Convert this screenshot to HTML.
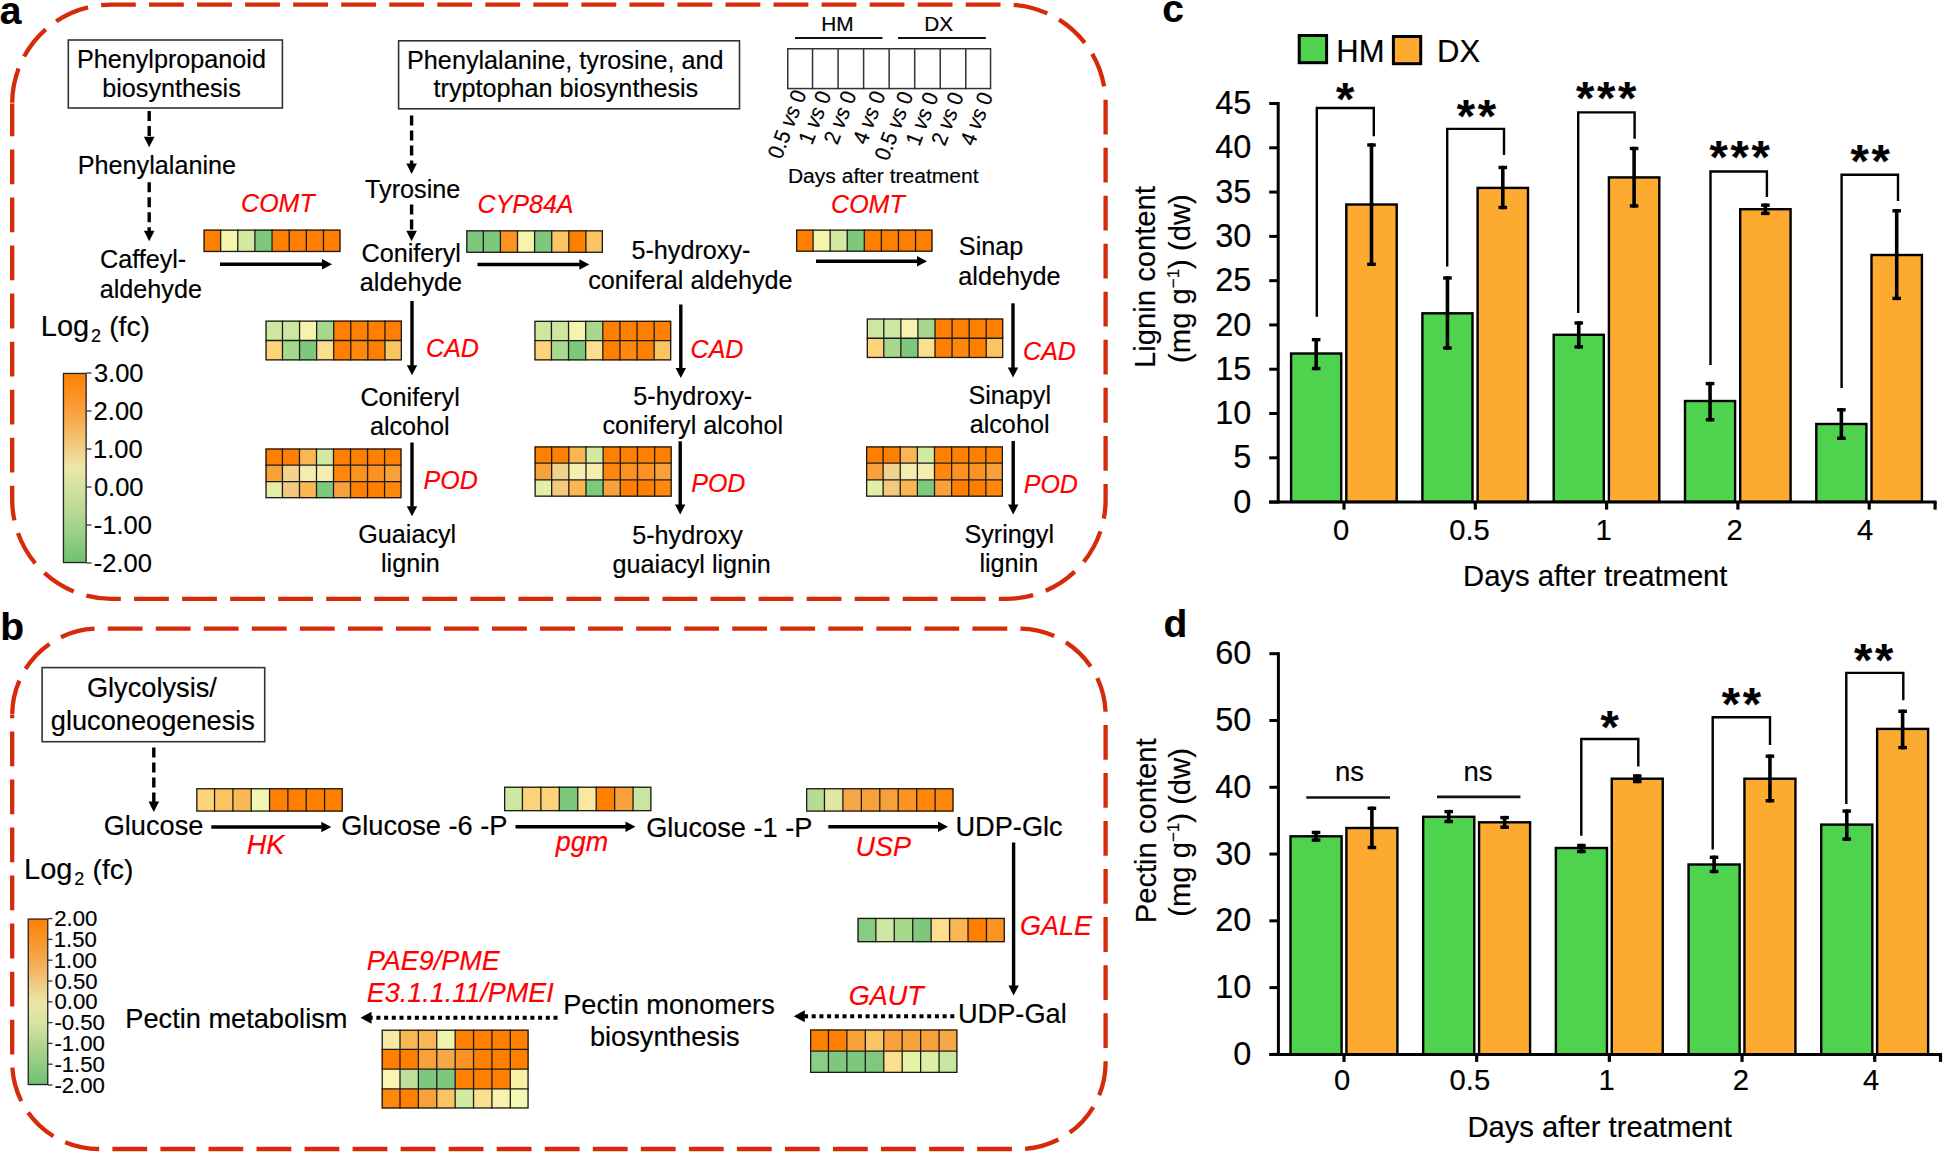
<!DOCTYPE html>
<html><head><meta charset="utf-8"><title>Figure</title>
<style>html,body{margin:0;padding:0;background:#fff;overflow:hidden}svg{display:block}text{font-family:'Liberation Sans', sans-serif;stroke-width:0.18px}</style>
</head><body>
<svg width="1944" height="1153" viewBox="0 0 1944 1153">
<rect width="1944" height="1153" fill="#fff"/>
<path d="M12.2,103.6 A99,99 0 0 1 111.2,4.6 L1006.6,4.6 A99,99 0 0 1 1105.6,103.6 L1105.6,499.8 A99,99 0 0 1 1006.6,598.8 L111.2,598.8 A99,99 0 0 1 12.2,499.8 Z" fill="none" stroke="#d52b0b" stroke-width="4.3" stroke-dasharray="34.8 13.24" stroke-dashoffset="-0.94"/>
<path d="M12.2,715.1 A86.5,86.5 0 0 1 98.7,628.6 L1019.1,628.6 A86.5,86.5 0 0 1 1105.6,715.1 L1105.6,1062.5 A86.5,86.5 0 0 1 1019.1,1149 L98.7,1149 A86.5,86.5 0 0 1 12.2,1062.5 Z" fill="none" stroke="#d52b0b" stroke-width="4.3" stroke-dasharray="34.8 13.24" stroke-dashoffset="-0.55"/>
<text x="-0.17" y="23.6" font-size="39" font-weight="bold" stroke="#000">a</text>
<text x="0.36" y="639.6" font-size="39" font-weight="bold" stroke="#000">b</text>
<text x="1162.24" y="22.3" font-size="39" font-weight="bold" stroke="#000">c</text>
<text x="1163.44" y="637.2" font-size="39" font-weight="bold" stroke="#000">d</text>
<rect x="68.3" y="40" width="214.1" height="68" fill="none" stroke="#333" stroke-width="1.6"/>
<text x="171.43" y="68.4" font-size="25.2" text-anchor="middle" stroke="#000">Phenylpropanoid</text>
<text x="171.5" y="97.2" font-size="25.2" text-anchor="middle" stroke="#000">biosynthesis</text>
<rect x="398.6" y="40.8" width="340.9" height="68" fill="none" stroke="#333" stroke-width="1.6"/>
<text x="565.3" y="68.9" font-size="25.2" text-anchor="middle" stroke="#000">Phenylalanine, tyrosine, and</text>
<text x="565.87" y="97.2" font-size="25.2" text-anchor="middle" stroke="#000">tryptophan biosynthesis</text>
<line x1="149.2" y1="111" x2="149.2" y2="137.2" stroke="#000" stroke-width="3.4" stroke-linecap="butt" stroke-dasharray="10 5"/>
<polygon points="149.2,147.2 143.9,136.7 154.5,136.7" fill="#000"/>
<text x="156.9" y="173.7" font-size="25.2" text-anchor="middle" stroke="#000">Phenylalanine</text>
<line x1="149.2" y1="182.2" x2="149.2" y2="231.3" stroke="#000" stroke-width="3.4" stroke-linecap="butt" stroke-dasharray="10 5"/>
<polygon points="149.2,241.3 143.9,230.8 154.5,230.8" fill="#000"/>
<text x="99.94" y="267.6" font-size="25.2" stroke="#000">Caffeyl-</text>
<text x="99.67" y="297.5" font-size="25.2" stroke="#000">aldehyde</text>
<line x1="411.6" y1="115.5" x2="411.6" y2="164" stroke="#000" stroke-width="3.4" stroke-linecap="butt" stroke-dasharray="10 5"/>
<polygon points="411.6,174 406.3,163.5 416.9,163.5" fill="#000"/>
<text x="412.65" y="198.4" font-size="25.2" text-anchor="middle" stroke="#000">Tyrosine</text>
<line x1="411.6" y1="204.5" x2="411.6" y2="231.3" stroke="#000" stroke-width="3.4" stroke-linecap="butt" stroke-dasharray="10 5"/>
<polygon points="411.6,241.3 406.3,230.8 416.9,230.8" fill="#000"/>
<text x="411.2" y="262.2" font-size="25.2" text-anchor="middle" stroke="#000">Coniferyl</text>
<text x="410.99" y="291.4" font-size="25.2" text-anchor="middle" stroke="#000">aldehyde</text>
<text x="690.95" y="258.9" font-size="25.2" text-anchor="middle" stroke="#000">5-hydroxy-</text>
<text x="690.42" y="288.9" font-size="25.2" text-anchor="middle" stroke="#000">coniferal aldehyde</text>
<text x="958.87" y="255.4" font-size="25.2" stroke="#000">Sinap</text>
<text x="958.37" y="284.7" font-size="25.2" stroke="#000">aldehyde</text>
<text x="410.1" y="405.9" font-size="25.2" text-anchor="middle" stroke="#000">Coniferyl</text>
<text x="409.8" y="435.4" font-size="25.2" text-anchor="middle" stroke="#000">alcohol</text>
<text x="692.75" y="404.7" font-size="25.2" text-anchor="middle" stroke="#000">5-hydroxy-</text>
<text x="692.76" y="433.9" font-size="25.2" text-anchor="middle" stroke="#000">coniferyl alcohol</text>
<text x="1009.75" y="403.9" font-size="25.2" text-anchor="middle" stroke="#000">Sinapyl</text>
<text x="1009.6" y="432.9" font-size="25.2" text-anchor="middle" stroke="#000">alcohol</text>
<text x="407.2" y="542.9" font-size="25.2" text-anchor="middle" stroke="#000">Guaiacyl</text>
<text x="410.4" y="572.2" font-size="25.2" text-anchor="middle" stroke="#000">lignin</text>
<text x="687.47" y="544.2" font-size="25.2" text-anchor="middle" stroke="#000">5-hydroxy</text>
<text x="691.64" y="573.4" font-size="25.2" text-anchor="middle" stroke="#000">guaiacyl lignin</text>
<text x="1009.27" y="542.7" font-size="25.2" text-anchor="middle" stroke="#000">Syringyl</text>
<text x="1008.8" y="572.2" font-size="25.2" text-anchor="middle" stroke="#000">lignin</text>
<line x1="220" y1="264.2" x2="322.5" y2="264.2" stroke="#000" stroke-width="3.4" stroke-linecap="butt"/>
<polygon points="332,264.2 322,269.4 322,259" fill="#000"/>
<line x1="477.5" y1="264.5" x2="579.8" y2="264.5" stroke="#000" stroke-width="3.4" stroke-linecap="butt"/>
<polygon points="589.3,264.5 579.3,269.7 579.3,259.3" fill="#000"/>
<line x1="816" y1="261.3" x2="917.5" y2="261.3" stroke="#000" stroke-width="3.4" stroke-linecap="butt"/>
<polygon points="927,261.3 917,266.5 917,256.1" fill="#000"/>
<line x1="412" y1="301" x2="412" y2="365.7" stroke="#000" stroke-width="3.4" stroke-linecap="butt"/>
<polygon points="412,375.2 406.8,365.2 417.2,365.2" fill="#000"/>
<line x1="680.8" y1="304.5" x2="680.8" y2="368.5" stroke="#000" stroke-width="3.4" stroke-linecap="butt"/>
<polygon points="680.8,378 675.6,368 686,368" fill="#000"/>
<line x1="1013" y1="303.3" x2="1013" y2="368" stroke="#000" stroke-width="3.4" stroke-linecap="butt"/>
<polygon points="1013,377.5 1007.8,367.5 1018.2,367.5" fill="#000"/>
<line x1="412" y1="442.5" x2="412" y2="506.8" stroke="#000" stroke-width="3.4" stroke-linecap="butt"/>
<polygon points="412,516.3 406.8,506.3 417.2,506.3" fill="#000"/>
<line x1="680.2" y1="441.3" x2="680.2" y2="505" stroke="#000" stroke-width="3.4" stroke-linecap="butt"/>
<polygon points="680.2,514.5 675,504.5 685.4,504.5" fill="#000"/>
<line x1="1013.2" y1="441" x2="1013.2" y2="505" stroke="#000" stroke-width="3.4" stroke-linecap="butt"/>
<polygon points="1013.2,514.5 1008,504.5 1018.4,504.5" fill="#000"/>
<text x="241.12" y="211.9" font-size="25" font-style="italic" fill="#ff0000" stroke="#ff0000">COMT</text>
<text x="477.62" y="212.9" font-size="25" font-style="italic" fill="#ff0000" stroke="#ff0000">CYP84A</text>
<text x="831.12" y="212.9" font-size="25" font-style="italic" fill="#ff0000" stroke="#ff0000">COMT</text>
<text x="426.12" y="357.2" font-size="25" font-style="italic" fill="#ff0000" stroke="#ff0000">CAD</text>
<text x="690.62" y="357.9" font-size="25" font-style="italic" fill="#ff0000" stroke="#ff0000">CAD</text>
<text x="1023.12" y="359.7" font-size="25" font-style="italic" fill="#ff0000" stroke="#ff0000">CAD</text>
<text x="423.55" y="488.9" font-size="25" font-style="italic" fill="#ff0000" stroke="#ff0000">POD</text>
<text x="691.25" y="491.7" font-size="25" font-style="italic" fill="#ff0000" stroke="#ff0000">POD</text>
<text x="1023.75" y="492.9" font-size="25" font-style="italic" fill="#ff0000" stroke="#ff0000">POD</text>
<rect x="203.5" y="229.5" width="17.14" height="22.6" fill="#ff8000"/>
<rect x="220.64" y="229.5" width="17.14" height="22.6" fill="#f5f3ad"/>
<rect x="237.78" y="229.5" width="17.14" height="22.6" fill="#d3e9a2"/>
<rect x="254.91" y="229.5" width="17.14" height="22.6" fill="#7dc87d"/>
<rect x="272.05" y="229.5" width="17.14" height="22.6" fill="#ff8000"/>
<rect x="289.19" y="229.5" width="17.14" height="22.6" fill="#ff8000"/>
<rect x="306.33" y="229.5" width="17.14" height="22.6" fill="#ff8000"/>
<rect x="323.46" y="229.5" width="17.14" height="22.6" fill="#ff8000"/>
<line x1="220.64" y1="229.5" x2="220.64" y2="252.1" stroke="#1a1a1a" stroke-width="1.3" stroke-linecap="butt"/>
<line x1="237.78" y1="229.5" x2="237.78" y2="252.1" stroke="#1a1a1a" stroke-width="1.3" stroke-linecap="butt"/>
<line x1="254.91" y1="229.5" x2="254.91" y2="252.1" stroke="#1a1a1a" stroke-width="1.3" stroke-linecap="butt"/>
<line x1="272.05" y1="229.5" x2="272.05" y2="252.1" stroke="#1a1a1a" stroke-width="1.3" stroke-linecap="butt"/>
<line x1="289.19" y1="229.5" x2="289.19" y2="252.1" stroke="#1a1a1a" stroke-width="1.3" stroke-linecap="butt"/>
<line x1="306.33" y1="229.5" x2="306.33" y2="252.1" stroke="#1a1a1a" stroke-width="1.3" stroke-linecap="butt"/>
<line x1="323.46" y1="229.5" x2="323.46" y2="252.1" stroke="#1a1a1a" stroke-width="1.3" stroke-linecap="butt"/>
<rect x="204.15" y="230.15" width="135.8" height="21.3" fill="none" stroke="#1a1a1a" stroke-width="1.3"/>
<rect x="466.2" y="230.2" width="17.1" height="22.7" fill="#7dc87d"/>
<rect x="483.3" y="230.2" width="17.1" height="22.7" fill="#7dc87d"/>
<rect x="500.4" y="230.2" width="17.1" height="22.7" fill="#fc9222"/>
<rect x="517.5" y="230.2" width="17.1" height="22.7" fill="#f5f3ad"/>
<rect x="534.6" y="230.2" width="17.1" height="22.7" fill="#7dc87d"/>
<rect x="551.7" y="230.2" width="17.1" height="22.7" fill="#fbc462"/>
<rect x="568.8" y="230.2" width="17.1" height="22.7" fill="#ff8000"/>
<rect x="585.9" y="230.2" width="17.1" height="22.7" fill="#fbc462"/>
<line x1="483.3" y1="230.2" x2="483.3" y2="252.9" stroke="#1a1a1a" stroke-width="1.3" stroke-linecap="butt"/>
<line x1="500.4" y1="230.2" x2="500.4" y2="252.9" stroke="#1a1a1a" stroke-width="1.3" stroke-linecap="butt"/>
<line x1="517.5" y1="230.2" x2="517.5" y2="252.9" stroke="#1a1a1a" stroke-width="1.3" stroke-linecap="butt"/>
<line x1="534.6" y1="230.2" x2="534.6" y2="252.9" stroke="#1a1a1a" stroke-width="1.3" stroke-linecap="butt"/>
<line x1="551.7" y1="230.2" x2="551.7" y2="252.9" stroke="#1a1a1a" stroke-width="1.3" stroke-linecap="butt"/>
<line x1="568.8" y1="230.2" x2="568.8" y2="252.9" stroke="#1a1a1a" stroke-width="1.3" stroke-linecap="butt"/>
<line x1="585.9" y1="230.2" x2="585.9" y2="252.9" stroke="#1a1a1a" stroke-width="1.3" stroke-linecap="butt"/>
<rect x="466.85" y="230.85" width="135.5" height="21.4" fill="none" stroke="#1a1a1a" stroke-width="1.3"/>
<rect x="796" y="229.5" width="17.08" height="22.3" fill="#ff8000"/>
<rect x="813.08" y="229.5" width="17.07" height="22.3" fill="#f5f3ad"/>
<rect x="830.15" y="229.5" width="17.08" height="22.3" fill="#d3e9a2"/>
<rect x="847.23" y="229.5" width="17.07" height="22.3" fill="#7dc87d"/>
<rect x="864.3" y="229.5" width="17.08" height="22.3" fill="#ff8000"/>
<rect x="881.38" y="229.5" width="17.08" height="22.3" fill="#ff8000"/>
<rect x="898.45" y="229.5" width="17.07" height="22.3" fill="#ff8000"/>
<rect x="915.52" y="229.5" width="17.08" height="22.3" fill="#ff8000"/>
<line x1="813.08" y1="229.5" x2="813.08" y2="251.8" stroke="#1a1a1a" stroke-width="1.3" stroke-linecap="butt"/>
<line x1="830.15" y1="229.5" x2="830.15" y2="251.8" stroke="#1a1a1a" stroke-width="1.3" stroke-linecap="butt"/>
<line x1="847.23" y1="229.5" x2="847.23" y2="251.8" stroke="#1a1a1a" stroke-width="1.3" stroke-linecap="butt"/>
<line x1="864.3" y1="229.5" x2="864.3" y2="251.8" stroke="#1a1a1a" stroke-width="1.3" stroke-linecap="butt"/>
<line x1="881.38" y1="229.5" x2="881.38" y2="251.8" stroke="#1a1a1a" stroke-width="1.3" stroke-linecap="butt"/>
<line x1="898.45" y1="229.5" x2="898.45" y2="251.8" stroke="#1a1a1a" stroke-width="1.3" stroke-linecap="butt"/>
<line x1="915.52" y1="229.5" x2="915.52" y2="251.8" stroke="#1a1a1a" stroke-width="1.3" stroke-linecap="butt"/>
<rect x="796.65" y="230.15" width="135.3" height="21" fill="none" stroke="#1a1a1a" stroke-width="1.3"/>
<rect x="265.4" y="320.5" width="17.07" height="20" fill="#cde7a0"/>
<rect x="282.47" y="320.5" width="17.07" height="20" fill="#cde7a0"/>
<rect x="299.55" y="320.5" width="17.08" height="20" fill="#f5f3ad"/>
<rect x="316.62" y="320.5" width="17.07" height="20" fill="#a8d78e"/>
<rect x="333.7" y="320.5" width="17.07" height="20" fill="#ff8000"/>
<rect x="350.77" y="320.5" width="17.08" height="20" fill="#ff8000"/>
<rect x="367.85" y="320.5" width="17.07" height="20" fill="#ff8000"/>
<rect x="384.93" y="320.5" width="17.07" height="20" fill="#ff8000"/>
<rect x="265.4" y="340.5" width="17.07" height="20" fill="#fcd47a"/>
<rect x="282.47" y="340.5" width="17.07" height="20" fill="#a8d78e"/>
<rect x="299.55" y="340.5" width="17.08" height="20" fill="#7dc87d"/>
<rect x="316.62" y="340.5" width="17.07" height="20" fill="#fcdf8e"/>
<rect x="333.7" y="340.5" width="17.07" height="20" fill="#ff8000"/>
<rect x="350.77" y="340.5" width="17.08" height="20" fill="#fe870c"/>
<rect x="367.85" y="340.5" width="17.07" height="20" fill="#ff8000"/>
<rect x="384.93" y="340.5" width="17.07" height="20" fill="#fbc462"/>
<line x1="282.47" y1="320.5" x2="282.47" y2="360.5" stroke="#1a1a1a" stroke-width="1.3" stroke-linecap="butt"/>
<line x1="299.55" y1="320.5" x2="299.55" y2="360.5" stroke="#1a1a1a" stroke-width="1.3" stroke-linecap="butt"/>
<line x1="316.62" y1="320.5" x2="316.62" y2="360.5" stroke="#1a1a1a" stroke-width="1.3" stroke-linecap="butt"/>
<line x1="333.7" y1="320.5" x2="333.7" y2="360.5" stroke="#1a1a1a" stroke-width="1.3" stroke-linecap="butt"/>
<line x1="350.77" y1="320.5" x2="350.77" y2="360.5" stroke="#1a1a1a" stroke-width="1.3" stroke-linecap="butt"/>
<line x1="367.85" y1="320.5" x2="367.85" y2="360.5" stroke="#1a1a1a" stroke-width="1.3" stroke-linecap="butt"/>
<line x1="384.93" y1="320.5" x2="384.93" y2="360.5" stroke="#1a1a1a" stroke-width="1.3" stroke-linecap="butt"/>
<line x1="265.4" y1="340.5" x2="402" y2="340.5" stroke="#1a1a1a" stroke-width="1.3" stroke-linecap="butt"/>
<rect x="266.05" y="321.15" width="135.3" height="38.7" fill="none" stroke="#1a1a1a" stroke-width="1.3"/>
<rect x="534.3" y="320.7" width="17.12" height="19.9" fill="#cde7a0"/>
<rect x="551.42" y="320.7" width="17.12" height="19.9" fill="#cde7a0"/>
<rect x="568.55" y="320.7" width="17.12" height="19.9" fill="#f5f3ad"/>
<rect x="585.67" y="320.7" width="17.12" height="19.9" fill="#a8d78e"/>
<rect x="602.8" y="320.7" width="17.12" height="19.9" fill="#ff8000"/>
<rect x="619.92" y="320.7" width="17.12" height="19.9" fill="#ff8000"/>
<rect x="637.05" y="320.7" width="17.12" height="19.9" fill="#ff8000"/>
<rect x="654.17" y="320.7" width="17.12" height="19.9" fill="#ff8000"/>
<rect x="534.3" y="340.6" width="17.12" height="19.9" fill="#fcd47a"/>
<rect x="551.42" y="340.6" width="17.12" height="19.9" fill="#a8d78e"/>
<rect x="568.55" y="340.6" width="17.12" height="19.9" fill="#7dc87d"/>
<rect x="585.67" y="340.6" width="17.12" height="19.9" fill="#fcdf8e"/>
<rect x="602.8" y="340.6" width="17.12" height="19.9" fill="#ff8000"/>
<rect x="619.92" y="340.6" width="17.12" height="19.9" fill="#fe870c"/>
<rect x="637.05" y="340.6" width="17.12" height="19.9" fill="#ff8000"/>
<rect x="654.17" y="340.6" width="17.12" height="19.9" fill="#fbc462"/>
<line x1="551.42" y1="320.7" x2="551.42" y2="360.5" stroke="#1a1a1a" stroke-width="1.3" stroke-linecap="butt"/>
<line x1="568.55" y1="320.7" x2="568.55" y2="360.5" stroke="#1a1a1a" stroke-width="1.3" stroke-linecap="butt"/>
<line x1="585.67" y1="320.7" x2="585.67" y2="360.5" stroke="#1a1a1a" stroke-width="1.3" stroke-linecap="butt"/>
<line x1="602.8" y1="320.7" x2="602.8" y2="360.5" stroke="#1a1a1a" stroke-width="1.3" stroke-linecap="butt"/>
<line x1="619.92" y1="320.7" x2="619.92" y2="360.5" stroke="#1a1a1a" stroke-width="1.3" stroke-linecap="butt"/>
<line x1="637.05" y1="320.7" x2="637.05" y2="360.5" stroke="#1a1a1a" stroke-width="1.3" stroke-linecap="butt"/>
<line x1="654.17" y1="320.7" x2="654.17" y2="360.5" stroke="#1a1a1a" stroke-width="1.3" stroke-linecap="butt"/>
<line x1="534.3" y1="340.6" x2="671.3" y2="340.6" stroke="#1a1a1a" stroke-width="1.3" stroke-linecap="butt"/>
<rect x="534.95" y="321.35" width="135.7" height="38.5" fill="none" stroke="#1a1a1a" stroke-width="1.3"/>
<rect x="866.7" y="318.4" width="17.08" height="19.85" fill="#cde7a0"/>
<rect x="883.78" y="318.4" width="17.07" height="19.85" fill="#cde7a0"/>
<rect x="900.85" y="318.4" width="17.07" height="19.85" fill="#f5f3ad"/>
<rect x="917.92" y="318.4" width="17.08" height="19.85" fill="#a8d78e"/>
<rect x="935" y="318.4" width="17.08" height="19.85" fill="#ff8000"/>
<rect x="952.08" y="318.4" width="17.07" height="19.85" fill="#ff8000"/>
<rect x="969.15" y="318.4" width="17.07" height="19.85" fill="#ff8000"/>
<rect x="986.22" y="318.4" width="17.08" height="19.85" fill="#ff8000"/>
<rect x="866.7" y="338.25" width="17.08" height="19.85" fill="#fcd47a"/>
<rect x="883.78" y="338.25" width="17.07" height="19.85" fill="#a8d78e"/>
<rect x="900.85" y="338.25" width="17.07" height="19.85" fill="#7dc87d"/>
<rect x="917.92" y="338.25" width="17.08" height="19.85" fill="#fcdf8e"/>
<rect x="935" y="338.25" width="17.08" height="19.85" fill="#ff8000"/>
<rect x="952.08" y="338.25" width="17.07" height="19.85" fill="#fe870c"/>
<rect x="969.15" y="338.25" width="17.07" height="19.85" fill="#ff8000"/>
<rect x="986.22" y="338.25" width="17.08" height="19.85" fill="#fbc462"/>
<line x1="883.78" y1="318.4" x2="883.78" y2="358.1" stroke="#1a1a1a" stroke-width="1.3" stroke-linecap="butt"/>
<line x1="900.85" y1="318.4" x2="900.85" y2="358.1" stroke="#1a1a1a" stroke-width="1.3" stroke-linecap="butt"/>
<line x1="917.92" y1="318.4" x2="917.92" y2="358.1" stroke="#1a1a1a" stroke-width="1.3" stroke-linecap="butt"/>
<line x1="935" y1="318.4" x2="935" y2="358.1" stroke="#1a1a1a" stroke-width="1.3" stroke-linecap="butt"/>
<line x1="952.08" y1="318.4" x2="952.08" y2="358.1" stroke="#1a1a1a" stroke-width="1.3" stroke-linecap="butt"/>
<line x1="969.15" y1="318.4" x2="969.15" y2="358.1" stroke="#1a1a1a" stroke-width="1.3" stroke-linecap="butt"/>
<line x1="986.22" y1="318.4" x2="986.22" y2="358.1" stroke="#1a1a1a" stroke-width="1.3" stroke-linecap="butt"/>
<line x1="866.7" y1="338.25" x2="1003.3" y2="338.25" stroke="#1a1a1a" stroke-width="1.3" stroke-linecap="butt"/>
<rect x="867.35" y="319.05" width="135.3" height="38.4" fill="none" stroke="#1a1a1a" stroke-width="1.3"/>
<rect x="265.4" y="448.4" width="17.02" height="16.63" fill="#ff8000"/>
<rect x="282.42" y="448.4" width="17.03" height="16.63" fill="#ff8000"/>
<rect x="299.45" y="448.4" width="17.03" height="16.63" fill="#fab652"/>
<rect x="316.48" y="448.4" width="17.02" height="16.63" fill="#d3e9a2"/>
<rect x="333.5" y="448.4" width="17.02" height="16.63" fill="#ff8000"/>
<rect x="350.52" y="448.4" width="17.03" height="16.63" fill="#ff8000"/>
<rect x="367.55" y="448.4" width="17.03" height="16.63" fill="#ff8000"/>
<rect x="384.58" y="448.4" width="17.02" height="16.63" fill="#ff8000"/>
<rect x="265.4" y="465.03" width="17.02" height="16.63" fill="#f8a13a"/>
<rect x="282.42" y="465.03" width="17.03" height="16.63" fill="#f1d28e"/>
<rect x="299.45" y="465.03" width="17.03" height="16.63" fill="#f3eeb0"/>
<rect x="316.48" y="465.03" width="17.02" height="16.63" fill="#f3eeb0"/>
<rect x="333.5" y="465.03" width="17.02" height="16.63" fill="#fe870c"/>
<rect x="350.52" y="465.03" width="17.03" height="16.63" fill="#fc9222"/>
<rect x="367.55" y="465.03" width="17.03" height="16.63" fill="#fc9222"/>
<rect x="384.58" y="465.03" width="17.02" height="16.63" fill="#f8a13a"/>
<rect x="265.4" y="481.67" width="17.02" height="16.63" fill="#e4eea6"/>
<rect x="282.42" y="481.67" width="17.03" height="16.63" fill="#f2c97e"/>
<rect x="299.45" y="481.67" width="17.03" height="16.63" fill="#fab652"/>
<rect x="316.48" y="481.67" width="17.02" height="16.63" fill="#7dc87d"/>
<rect x="333.5" y="481.67" width="17.02" height="16.63" fill="#f8a13a"/>
<rect x="350.52" y="481.67" width="17.03" height="16.63" fill="#ff8000"/>
<rect x="367.55" y="481.67" width="17.03" height="16.63" fill="#ff8000"/>
<rect x="384.58" y="481.67" width="17.02" height="16.63" fill="#fe870c"/>
<line x1="282.42" y1="448.4" x2="282.42" y2="498.3" stroke="#1a1a1a" stroke-width="1.3" stroke-linecap="butt"/>
<line x1="299.45" y1="448.4" x2="299.45" y2="498.3" stroke="#1a1a1a" stroke-width="1.3" stroke-linecap="butt"/>
<line x1="316.48" y1="448.4" x2="316.48" y2="498.3" stroke="#1a1a1a" stroke-width="1.3" stroke-linecap="butt"/>
<line x1="333.5" y1="448.4" x2="333.5" y2="498.3" stroke="#1a1a1a" stroke-width="1.3" stroke-linecap="butt"/>
<line x1="350.52" y1="448.4" x2="350.52" y2="498.3" stroke="#1a1a1a" stroke-width="1.3" stroke-linecap="butt"/>
<line x1="367.55" y1="448.4" x2="367.55" y2="498.3" stroke="#1a1a1a" stroke-width="1.3" stroke-linecap="butt"/>
<line x1="384.58" y1="448.4" x2="384.58" y2="498.3" stroke="#1a1a1a" stroke-width="1.3" stroke-linecap="butt"/>
<line x1="265.4" y1="465.03" x2="401.6" y2="465.03" stroke="#1a1a1a" stroke-width="1.3" stroke-linecap="butt"/>
<line x1="265.4" y1="481.67" x2="401.6" y2="481.67" stroke="#1a1a1a" stroke-width="1.3" stroke-linecap="butt"/>
<rect x="266.05" y="449.05" width="134.9" height="48.6" fill="none" stroke="#1a1a1a" stroke-width="1.3"/>
<rect x="534.5" y="446.3" width="17.16" height="16.83" fill="#ff8000"/>
<rect x="551.66" y="446.3" width="17.16" height="16.83" fill="#ff8000"/>
<rect x="568.83" y="446.3" width="17.16" height="16.83" fill="#fab652"/>
<rect x="585.99" y="446.3" width="17.16" height="16.83" fill="#d3e9a2"/>
<rect x="603.15" y="446.3" width="17.16" height="16.83" fill="#ff8000"/>
<rect x="620.31" y="446.3" width="17.16" height="16.83" fill="#ff8000"/>
<rect x="637.47" y="446.3" width="17.16" height="16.83" fill="#ff8000"/>
<rect x="654.64" y="446.3" width="17.16" height="16.83" fill="#ff8000"/>
<rect x="534.5" y="463.13" width="17.16" height="16.83" fill="#f8a13a"/>
<rect x="551.66" y="463.13" width="17.16" height="16.83" fill="#f1d28e"/>
<rect x="568.83" y="463.13" width="17.16" height="16.83" fill="#f3eeb0"/>
<rect x="585.99" y="463.13" width="17.16" height="16.83" fill="#f3eeb0"/>
<rect x="603.15" y="463.13" width="17.16" height="16.83" fill="#fe870c"/>
<rect x="620.31" y="463.13" width="17.16" height="16.83" fill="#fc9222"/>
<rect x="637.47" y="463.13" width="17.16" height="16.83" fill="#fc9222"/>
<rect x="654.64" y="463.13" width="17.16" height="16.83" fill="#f8a13a"/>
<rect x="534.5" y="479.97" width="17.16" height="16.83" fill="#e4eea6"/>
<rect x="551.66" y="479.97" width="17.16" height="16.83" fill="#f2c97e"/>
<rect x="568.83" y="479.97" width="17.16" height="16.83" fill="#fab652"/>
<rect x="585.99" y="479.97" width="17.16" height="16.83" fill="#7dc87d"/>
<rect x="603.15" y="479.97" width="17.16" height="16.83" fill="#f8a13a"/>
<rect x="620.31" y="479.97" width="17.16" height="16.83" fill="#ff8000"/>
<rect x="637.47" y="479.97" width="17.16" height="16.83" fill="#ff8000"/>
<rect x="654.64" y="479.97" width="17.16" height="16.83" fill="#fe870c"/>
<line x1="551.66" y1="446.3" x2="551.66" y2="496.8" stroke="#1a1a1a" stroke-width="1.3" stroke-linecap="butt"/>
<line x1="568.83" y1="446.3" x2="568.83" y2="496.8" stroke="#1a1a1a" stroke-width="1.3" stroke-linecap="butt"/>
<line x1="585.99" y1="446.3" x2="585.99" y2="496.8" stroke="#1a1a1a" stroke-width="1.3" stroke-linecap="butt"/>
<line x1="603.15" y1="446.3" x2="603.15" y2="496.8" stroke="#1a1a1a" stroke-width="1.3" stroke-linecap="butt"/>
<line x1="620.31" y1="446.3" x2="620.31" y2="496.8" stroke="#1a1a1a" stroke-width="1.3" stroke-linecap="butt"/>
<line x1="637.47" y1="446.3" x2="637.47" y2="496.8" stroke="#1a1a1a" stroke-width="1.3" stroke-linecap="butt"/>
<line x1="654.64" y1="446.3" x2="654.64" y2="496.8" stroke="#1a1a1a" stroke-width="1.3" stroke-linecap="butt"/>
<line x1="534.5" y1="463.13" x2="671.8" y2="463.13" stroke="#1a1a1a" stroke-width="1.3" stroke-linecap="butt"/>
<line x1="534.5" y1="479.97" x2="671.8" y2="479.97" stroke="#1a1a1a" stroke-width="1.3" stroke-linecap="butt"/>
<rect x="535.15" y="446.95" width="136" height="49.2" fill="none" stroke="#1a1a1a" stroke-width="1.3"/>
<rect x="866" y="446.3" width="17.12" height="16.83" fill="#ff8000"/>
<rect x="883.12" y="446.3" width="17.12" height="16.83" fill="#ff8000"/>
<rect x="900.25" y="446.3" width="17.12" height="16.83" fill="#fab652"/>
<rect x="917.38" y="446.3" width="17.12" height="16.83" fill="#d3e9a2"/>
<rect x="934.5" y="446.3" width="17.12" height="16.83" fill="#ff8000"/>
<rect x="951.62" y="446.3" width="17.12" height="16.83" fill="#ff8000"/>
<rect x="968.75" y="446.3" width="17.12" height="16.83" fill="#ff8000"/>
<rect x="985.88" y="446.3" width="17.12" height="16.83" fill="#ff8000"/>
<rect x="866" y="463.13" width="17.12" height="16.83" fill="#f8a13a"/>
<rect x="883.12" y="463.13" width="17.12" height="16.83" fill="#f1d28e"/>
<rect x="900.25" y="463.13" width="17.12" height="16.83" fill="#f3eeb0"/>
<rect x="917.38" y="463.13" width="17.12" height="16.83" fill="#f3eeb0"/>
<rect x="934.5" y="463.13" width="17.12" height="16.83" fill="#fe870c"/>
<rect x="951.62" y="463.13" width="17.12" height="16.83" fill="#fc9222"/>
<rect x="968.75" y="463.13" width="17.12" height="16.83" fill="#fc9222"/>
<rect x="985.88" y="463.13" width="17.12" height="16.83" fill="#f8a13a"/>
<rect x="866" y="479.97" width="17.12" height="16.83" fill="#e4eea6"/>
<rect x="883.12" y="479.97" width="17.12" height="16.83" fill="#f2c97e"/>
<rect x="900.25" y="479.97" width="17.12" height="16.83" fill="#fab652"/>
<rect x="917.38" y="479.97" width="17.12" height="16.83" fill="#7dc87d"/>
<rect x="934.5" y="479.97" width="17.12" height="16.83" fill="#f8a13a"/>
<rect x="951.62" y="479.97" width="17.12" height="16.83" fill="#ff8000"/>
<rect x="968.75" y="479.97" width="17.12" height="16.83" fill="#ff8000"/>
<rect x="985.88" y="479.97" width="17.12" height="16.83" fill="#fe870c"/>
<line x1="883.12" y1="446.3" x2="883.12" y2="496.8" stroke="#1a1a1a" stroke-width="1.3" stroke-linecap="butt"/>
<line x1="900.25" y1="446.3" x2="900.25" y2="496.8" stroke="#1a1a1a" stroke-width="1.3" stroke-linecap="butt"/>
<line x1="917.38" y1="446.3" x2="917.38" y2="496.8" stroke="#1a1a1a" stroke-width="1.3" stroke-linecap="butt"/>
<line x1="934.5" y1="446.3" x2="934.5" y2="496.8" stroke="#1a1a1a" stroke-width="1.3" stroke-linecap="butt"/>
<line x1="951.62" y1="446.3" x2="951.62" y2="496.8" stroke="#1a1a1a" stroke-width="1.3" stroke-linecap="butt"/>
<line x1="968.75" y1="446.3" x2="968.75" y2="496.8" stroke="#1a1a1a" stroke-width="1.3" stroke-linecap="butt"/>
<line x1="985.88" y1="446.3" x2="985.88" y2="496.8" stroke="#1a1a1a" stroke-width="1.3" stroke-linecap="butt"/>
<line x1="866" y1="463.13" x2="1003" y2="463.13" stroke="#1a1a1a" stroke-width="1.3" stroke-linecap="butt"/>
<line x1="866" y1="479.97" x2="1003" y2="479.97" stroke="#1a1a1a" stroke-width="1.3" stroke-linecap="butt"/>
<rect x="866.65" y="446.95" width="135.7" height="49.2" fill="none" stroke="#1a1a1a" stroke-width="1.3"/>
<text x="821.34" y="30.9" font-size="20.8" stroke="#000">HM</text>
<text x="924.34" y="30.9" font-size="20.8" stroke="#000">DX</text>
<line x1="795" y1="38" x2="882.5" y2="38" stroke="#111" stroke-width="2" stroke-linecap="butt"/>
<line x1="898" y1="38" x2="985.8" y2="38" stroke="#111" stroke-width="2" stroke-linecap="butt"/>
<line x1="812.54" y1="48" x2="812.54" y2="89.3" stroke="#333" stroke-width="1.5" stroke-linecap="butt"/>
<line x1="838.08" y1="48" x2="838.08" y2="89.3" stroke="#333" stroke-width="1.5" stroke-linecap="butt"/>
<line x1="863.61" y1="48" x2="863.61" y2="89.3" stroke="#333" stroke-width="1.5" stroke-linecap="butt"/>
<line x1="889.15" y1="48" x2="889.15" y2="89.3" stroke="#333" stroke-width="1.5" stroke-linecap="butt"/>
<line x1="914.69" y1="48" x2="914.69" y2="89.3" stroke="#333" stroke-width="1.5" stroke-linecap="butt"/>
<line x1="940.22" y1="48" x2="940.22" y2="89.3" stroke="#333" stroke-width="1.5" stroke-linecap="butt"/>
<line x1="965.76" y1="48" x2="965.76" y2="89.3" stroke="#333" stroke-width="1.5" stroke-linecap="butt"/>
<rect x="787.75" y="48.75" width="202.8" height="39.8" fill="none" stroke="#333" stroke-width="1.5"/>
<text x="0" y="0" font-size="22" text-anchor="end" transform="translate(806.8,93.5) rotate(-69) scale(0.93,1)" stroke="#000">0.5 <tspan font-style="italic">vs</tspan> 0</text>
<text x="0" y="0" font-size="22" text-anchor="end" transform="translate(831.5,94.7) rotate(-69) scale(0.93,1)" stroke="#000">1 <tspan font-style="italic">vs</tspan> 0</text>
<text x="0" y="0" font-size="22" text-anchor="end" transform="translate(856.8,94.7) rotate(-69) scale(0.93,1)" stroke="#000">2 <tspan font-style="italic">vs</tspan> 0</text>
<text x="0" y="0" font-size="22" text-anchor="end" transform="translate(885.8,94.7) rotate(-69) scale(0.93,1)" stroke="#000">4 <tspan font-style="italic">vs</tspan> 0</text>
<text x="0" y="0" font-size="22" text-anchor="end" transform="translate(913.6,95.2) rotate(-69) scale(0.93,1)" stroke="#000">0.5 <tspan font-style="italic">vs</tspan> 0</text>
<text x="0" y="0" font-size="22" text-anchor="end" transform="translate(938.8,95.95) rotate(-69) scale(0.93,1)" stroke="#000">1 <tspan font-style="italic">vs</tspan> 0</text>
<text x="0" y="0" font-size="22" text-anchor="end" transform="translate(964.2,95.95) rotate(-69) scale(0.93,1)" stroke="#000">2 <tspan font-style="italic">vs</tspan> 0</text>
<text x="0" y="0" font-size="22" text-anchor="end" transform="translate(993.3,95.95) rotate(-69) scale(0.93,1)" stroke="#000">4 <tspan font-style="italic">vs</tspan> 0</text>
<text x="787.92" y="183.4" font-size="21.05" stroke="#000">Days after treatment</text>
<defs>
<linearGradient id="cbA" x1="0" y1="0" x2="0" y2="1"><stop offset="0" stop-color="#ff8000"/><stop offset="0.2" stop-color="#f9a03e"/><stop offset="0.4" stop-color="#f1cf86"/><stop offset="0.5" stop-color="#ebe8a8"/><stop offset="0.6" stop-color="#d4e2a0"/><stop offset="0.8" stop-color="#a6d48c"/><stop offset="1" stop-color="#6fc171"/></linearGradient>
<linearGradient id="cbB" x1="0" y1="0" x2="0" y2="1"><stop offset="0" stop-color="#ff8000"/><stop offset="0.25" stop-color="#f4a850"/><stop offset="0.375" stop-color="#f0c57e"/><stop offset="0.5" stop-color="#ebe6a8"/><stop offset="0.625" stop-color="#d8e4a2"/><stop offset="0.75" stop-color="#b4d692"/><stop offset="1" stop-color="#6fc171"/></linearGradient>
</defs>
<text x="40.78" y="335.8" font-size="29" stroke="#000">Log</text>
<text x="91" y="342.3" font-size="18" stroke="#000">2</text>
<text x="109.2" y="335.8" font-size="28.3" stroke="#000">(fc)</text>
<rect x="63.45" y="373.45" width="22.7" height="189.1" fill="url(#cbA)" stroke="#222" stroke-width="1.3"/>
<line x1="86.5" y1="373" x2="91.5" y2="373" stroke="#333" stroke-width="1.3" stroke-linecap="butt"/>
<text x="93.88" y="382.2" font-size="25.5" stroke="#000">3.00</text>
<line x1="86.5" y1="411" x2="91.5" y2="411" stroke="#333" stroke-width="1.3" stroke-linecap="butt"/>
<text x="93.62" y="420.2" font-size="25.5" stroke="#000">2.00</text>
<line x1="86.5" y1="449" x2="91.5" y2="449" stroke="#333" stroke-width="1.3" stroke-linecap="butt"/>
<text x="92.99" y="458.2" font-size="25.5" stroke="#000">1.00</text>
<line x1="86.5" y1="487" x2="91.5" y2="487" stroke="#333" stroke-width="1.3" stroke-linecap="butt"/>
<text x="93.88" y="496.2" font-size="25.5" stroke="#000">0.00</text>
<line x1="86.5" y1="525" x2="91.5" y2="525" stroke="#333" stroke-width="1.3" stroke-linecap="butt"/>
<text x="93.75" y="534.2" font-size="25.5" stroke="#000">-1.00</text>
<line x1="86.5" y1="563" x2="91.5" y2="563" stroke="#333" stroke-width="1.3" stroke-linecap="butt"/>
<text x="93.75" y="572.2" font-size="25.5" stroke="#000">-2.00</text>
<rect x="42.1" y="667.6" width="222.6" height="74.1" fill="none" stroke="#333" stroke-width="1.6"/>
<text x="151.87" y="697.2" font-size="27.2" text-anchor="middle" stroke="#000">Glycolysis/</text>
<text x="152.85" y="729.7" font-size="27.2" text-anchor="middle" stroke="#000">gluconeogenesis</text>
<line x1="153.8" y1="747.5" x2="153.8" y2="802" stroke="#000" stroke-width="3.4" stroke-linecap="butt" stroke-dasharray="10 5"/>
<polygon points="153.8,812 148.5,801.5 159.1,801.5" fill="#000"/>
<text x="103.64" y="835.4" font-size="27.2" stroke="#000">Glucose</text>
<text x="341.14" y="835.4" font-size="27.2" stroke="#000">Glucose -6 -P</text>
<text x="646.14" y="836.7" font-size="27.2" stroke="#000">Glucose -1 -P</text>
<text x="955.46" y="836.4" font-size="27.2" stroke="#000">UDP-Glc</text>
<text x="957.96" y="1023.4" font-size="27.2" stroke="#000">UDP-Gal</text>
<text x="563.22" y="1013.9" font-size="27.2" stroke="#000">Pectin monomers</text>
<text x="664.77" y="1045.6" font-size="27.2" text-anchor="middle" stroke="#000">biosynthesis</text>
<text x="125.32" y="1027.9" font-size="27.2" stroke="#000">Pectin metabolism</text>
<line x1="211.3" y1="827" x2="321.8" y2="827" stroke="#000" stroke-width="3.4" stroke-linecap="butt"/>
<polygon points="331.3,827 321.3,832.2 321.3,821.8" fill="#000"/>
<line x1="515.5" y1="826.8" x2="626" y2="826.8" stroke="#000" stroke-width="3.4" stroke-linecap="butt"/>
<polygon points="635.5,826.8 625.5,832 625.5,821.6" fill="#000"/>
<line x1="828.3" y1="826.8" x2="938.5" y2="826.8" stroke="#000" stroke-width="3.4" stroke-linecap="butt"/>
<polygon points="948,826.8 938,832 938,821.6" fill="#000"/>
<line x1="1013.6" y1="842.5" x2="1013.6" y2="986" stroke="#000" stroke-width="3.4" stroke-linecap="butt"/>
<polygon points="1013.6,995.5 1008.4,985.5 1018.8,985.5" fill="#000"/>
<line x1="954.3" y1="1016.3" x2="804.3" y2="1016.3" stroke="#000" stroke-width="4" stroke-linecap="butt" stroke-dasharray="4 3.7"/>
<polygon points="793.8,1016.3 804.8,1010.3 804.8,1022.3" fill="#000"/>
<line x1="557.5" y1="1017.8" x2="371" y2="1017.8" stroke="#000" stroke-width="4" stroke-linecap="butt" stroke-dasharray="4 3.7"/>
<polygon points="360.5,1017.8 371.5,1011.8 371.5,1023.8" fill="#000"/>
<text x="246.69" y="853.9" font-size="27" font-style="italic" fill="#ff0000" stroke="#ff0000">HK</text>
<text x="555.67" y="850.9" font-size="27" font-style="italic" fill="#ff0000" stroke="#ff0000">pgm</text>
<text x="855.48" y="856.4" font-size="27" font-style="italic" fill="#ff0000" stroke="#ff0000">USP</text>
<text x="1019.95" y="935.4" font-size="27" font-style="italic" fill="#ff0000" stroke="#ff0000">GALE</text>
<text x="848.65" y="1004.7" font-size="27" font-style="italic" fill="#ff0000" stroke="#ff0000">GAUT</text>
<text x="366.69" y="969.7" font-size="27" font-style="italic" fill="#ff0000" stroke="#ff0000">PAE9/PME</text>
<text x="366.69" y="1002.2" font-size="27" font-style="italic" fill="#ff0000" stroke="#ff0000">E3.1.1.11/PMEI</text>
<rect x="196.2" y="788.1" width="18.34" height="23.6" fill="#fcd47a"/>
<rect x="214.54" y="788.1" width="18.34" height="23.6" fill="#fbc462"/>
<rect x="232.88" y="788.1" width="18.34" height="23.6" fill="#fbb955"/>
<rect x="251.21" y="788.1" width="18.34" height="23.6" fill="#f3f6b0"/>
<rect x="269.55" y="788.1" width="18.34" height="23.6" fill="#ff8000"/>
<rect x="287.89" y="788.1" width="18.34" height="23.6" fill="#ff8000"/>
<rect x="306.22" y="788.1" width="18.34" height="23.6" fill="#ff8000"/>
<rect x="324.56" y="788.1" width="18.34" height="23.6" fill="#ff8000"/>
<line x1="214.54" y1="788.1" x2="214.54" y2="811.7" stroke="#1a1a1a" stroke-width="1.3" stroke-linecap="butt"/>
<line x1="232.88" y1="788.1" x2="232.88" y2="811.7" stroke="#1a1a1a" stroke-width="1.3" stroke-linecap="butt"/>
<line x1="251.21" y1="788.1" x2="251.21" y2="811.7" stroke="#1a1a1a" stroke-width="1.3" stroke-linecap="butt"/>
<line x1="269.55" y1="788.1" x2="269.55" y2="811.7" stroke="#1a1a1a" stroke-width="1.3" stroke-linecap="butt"/>
<line x1="287.89" y1="788.1" x2="287.89" y2="811.7" stroke="#1a1a1a" stroke-width="1.3" stroke-linecap="butt"/>
<line x1="306.22" y1="788.1" x2="306.22" y2="811.7" stroke="#1a1a1a" stroke-width="1.3" stroke-linecap="butt"/>
<line x1="324.56" y1="788.1" x2="324.56" y2="811.7" stroke="#1a1a1a" stroke-width="1.3" stroke-linecap="butt"/>
<rect x="196.85" y="788.75" width="145.4" height="22.3" fill="none" stroke="#1a1a1a" stroke-width="1.3"/>
<rect x="504" y="786.6" width="18.44" height="24.7" fill="#cde7a0"/>
<rect x="522.44" y="786.6" width="18.44" height="24.7" fill="#fcd47a"/>
<rect x="540.88" y="786.6" width="18.44" height="24.7" fill="#fcd47a"/>
<rect x="559.31" y="786.6" width="18.44" height="24.7" fill="#7dc87d"/>
<rect x="577.75" y="786.6" width="18.44" height="24.7" fill="#f9e8a0"/>
<rect x="596.19" y="786.6" width="18.44" height="24.7" fill="#ff8000"/>
<rect x="614.62" y="786.6" width="18.44" height="24.7" fill="#f8a13a"/>
<rect x="633.06" y="786.6" width="18.44" height="24.7" fill="#c9e5a0"/>
<line x1="522.44" y1="786.6" x2="522.44" y2="811.3" stroke="#1a1a1a" stroke-width="1.3" stroke-linecap="butt"/>
<line x1="540.88" y1="786.6" x2="540.88" y2="811.3" stroke="#1a1a1a" stroke-width="1.3" stroke-linecap="butt"/>
<line x1="559.31" y1="786.6" x2="559.31" y2="811.3" stroke="#1a1a1a" stroke-width="1.3" stroke-linecap="butt"/>
<line x1="577.75" y1="786.6" x2="577.75" y2="811.3" stroke="#1a1a1a" stroke-width="1.3" stroke-linecap="butt"/>
<line x1="596.19" y1="786.6" x2="596.19" y2="811.3" stroke="#1a1a1a" stroke-width="1.3" stroke-linecap="butt"/>
<line x1="614.62" y1="786.6" x2="614.62" y2="811.3" stroke="#1a1a1a" stroke-width="1.3" stroke-linecap="butt"/>
<line x1="633.06" y1="786.6" x2="633.06" y2="811.3" stroke="#1a1a1a" stroke-width="1.3" stroke-linecap="butt"/>
<rect x="504.65" y="787.25" width="146.2" height="23.4" fill="none" stroke="#1a1a1a" stroke-width="1.3"/>
<rect x="806" y="788.1" width="18.45" height="23.6" fill="#b6dc94"/>
<rect x="824.45" y="788.1" width="18.45" height="23.6" fill="#dfe6a0"/>
<rect x="842.9" y="788.1" width="18.45" height="23.6" fill="#f7a846"/>
<rect x="861.35" y="788.1" width="18.45" height="23.6" fill="#f8a13a"/>
<rect x="879.8" y="788.1" width="18.45" height="23.6" fill="#f8a13a"/>
<rect x="898.25" y="788.1" width="18.45" height="23.6" fill="#fc9222"/>
<rect x="916.7" y="788.1" width="18.45" height="23.6" fill="#fe870c"/>
<rect x="935.15" y="788.1" width="18.45" height="23.6" fill="#fe870c"/>
<line x1="824.45" y1="788.1" x2="824.45" y2="811.7" stroke="#1a1a1a" stroke-width="1.3" stroke-linecap="butt"/>
<line x1="842.9" y1="788.1" x2="842.9" y2="811.7" stroke="#1a1a1a" stroke-width="1.3" stroke-linecap="butt"/>
<line x1="861.35" y1="788.1" x2="861.35" y2="811.7" stroke="#1a1a1a" stroke-width="1.3" stroke-linecap="butt"/>
<line x1="879.8" y1="788.1" x2="879.8" y2="811.7" stroke="#1a1a1a" stroke-width="1.3" stroke-linecap="butt"/>
<line x1="898.25" y1="788.1" x2="898.25" y2="811.7" stroke="#1a1a1a" stroke-width="1.3" stroke-linecap="butt"/>
<line x1="916.7" y1="788.1" x2="916.7" y2="811.7" stroke="#1a1a1a" stroke-width="1.3" stroke-linecap="butt"/>
<line x1="935.15" y1="788.1" x2="935.15" y2="811.7" stroke="#1a1a1a" stroke-width="1.3" stroke-linecap="butt"/>
<rect x="806.65" y="788.75" width="146.3" height="22.3" fill="none" stroke="#1a1a1a" stroke-width="1.3"/>
<rect x="857.4" y="917.8" width="18.44" height="24.5" fill="#88cc82"/>
<rect x="875.84" y="917.8" width="18.44" height="24.5" fill="#cde7a0"/>
<rect x="894.27" y="917.8" width="18.44" height="24.5" fill="#a8d78e"/>
<rect x="912.71" y="917.8" width="18.44" height="24.5" fill="#7dc87d"/>
<rect x="931.15" y="917.8" width="18.44" height="24.5" fill="#fcdf8e"/>
<rect x="949.59" y="917.8" width="18.44" height="24.5" fill="#fab652"/>
<rect x="968.02" y="917.8" width="18.44" height="24.5" fill="#ff8000"/>
<rect x="986.46" y="917.8" width="18.44" height="24.5" fill="#fc9222"/>
<line x1="875.84" y1="917.8" x2="875.84" y2="942.3" stroke="#1a1a1a" stroke-width="1.3" stroke-linecap="butt"/>
<line x1="894.27" y1="917.8" x2="894.27" y2="942.3" stroke="#1a1a1a" stroke-width="1.3" stroke-linecap="butt"/>
<line x1="912.71" y1="917.8" x2="912.71" y2="942.3" stroke="#1a1a1a" stroke-width="1.3" stroke-linecap="butt"/>
<line x1="931.15" y1="917.8" x2="931.15" y2="942.3" stroke="#1a1a1a" stroke-width="1.3" stroke-linecap="butt"/>
<line x1="949.59" y1="917.8" x2="949.59" y2="942.3" stroke="#1a1a1a" stroke-width="1.3" stroke-linecap="butt"/>
<line x1="968.02" y1="917.8" x2="968.02" y2="942.3" stroke="#1a1a1a" stroke-width="1.3" stroke-linecap="butt"/>
<line x1="986.46" y1="917.8" x2="986.46" y2="942.3" stroke="#1a1a1a" stroke-width="1.3" stroke-linecap="butt"/>
<rect x="858.05" y="918.45" width="146.2" height="23.2" fill="none" stroke="#1a1a1a" stroke-width="1.3"/>
<rect x="810" y="1029.4" width="18.44" height="21.8" fill="#ff8000"/>
<rect x="828.44" y="1029.4" width="18.44" height="21.8" fill="#ff8000"/>
<rect x="846.88" y="1029.4" width="18.44" height="21.8" fill="#f8a13a"/>
<rect x="865.31" y="1029.4" width="18.44" height="21.8" fill="#fbc462"/>
<rect x="883.75" y="1029.4" width="18.44" height="21.8" fill="#f8a13a"/>
<rect x="902.19" y="1029.4" width="18.44" height="21.8" fill="#f8a13a"/>
<rect x="920.62" y="1029.4" width="18.44" height="21.8" fill="#f8a13a"/>
<rect x="939.06" y="1029.4" width="18.44" height="21.8" fill="#f7a846"/>
<rect x="810" y="1051.2" width="18.44" height="21.8" fill="#8bcd85"/>
<rect x="828.44" y="1051.2" width="18.44" height="21.8" fill="#7dc87d"/>
<rect x="846.88" y="1051.2" width="18.44" height="21.8" fill="#7dc87d"/>
<rect x="865.31" y="1051.2" width="18.44" height="21.8" fill="#80c87f"/>
<rect x="883.75" y="1051.2" width="18.44" height="21.8" fill="#fcdf8e"/>
<rect x="902.19" y="1051.2" width="18.44" height="21.8" fill="#e4f3a4"/>
<rect x="920.62" y="1051.2" width="18.44" height="21.8" fill="#dcefa4"/>
<rect x="939.06" y="1051.2" width="18.44" height="21.8" fill="#c8e6a0"/>
<line x1="828.44" y1="1029.4" x2="828.44" y2="1073" stroke="#1a1a1a" stroke-width="1.3" stroke-linecap="butt"/>
<line x1="846.88" y1="1029.4" x2="846.88" y2="1073" stroke="#1a1a1a" stroke-width="1.3" stroke-linecap="butt"/>
<line x1="865.31" y1="1029.4" x2="865.31" y2="1073" stroke="#1a1a1a" stroke-width="1.3" stroke-linecap="butt"/>
<line x1="883.75" y1="1029.4" x2="883.75" y2="1073" stroke="#1a1a1a" stroke-width="1.3" stroke-linecap="butt"/>
<line x1="902.19" y1="1029.4" x2="902.19" y2="1073" stroke="#1a1a1a" stroke-width="1.3" stroke-linecap="butt"/>
<line x1="920.62" y1="1029.4" x2="920.62" y2="1073" stroke="#1a1a1a" stroke-width="1.3" stroke-linecap="butt"/>
<line x1="939.06" y1="1029.4" x2="939.06" y2="1073" stroke="#1a1a1a" stroke-width="1.3" stroke-linecap="butt"/>
<line x1="810" y1="1051.2" x2="957.5" y2="1051.2" stroke="#1a1a1a" stroke-width="1.3" stroke-linecap="butt"/>
<rect x="810.65" y="1030.05" width="146.2" height="42.3" fill="none" stroke="#1a1a1a" stroke-width="1.3"/>
<rect x="381.6" y="1029.6" width="18.39" height="19.75" fill="#f8eaa4"/>
<rect x="399.99" y="1029.6" width="18.39" height="19.75" fill="#fab652"/>
<rect x="418.38" y="1029.6" width="18.39" height="19.75" fill="#fab652"/>
<rect x="436.76" y="1029.6" width="18.39" height="19.75" fill="#f0f4a8"/>
<rect x="455.15" y="1029.6" width="18.39" height="19.75" fill="#ff8000"/>
<rect x="473.54" y="1029.6" width="18.39" height="19.75" fill="#ff8000"/>
<rect x="491.93" y="1029.6" width="18.39" height="19.75" fill="#ff8000"/>
<rect x="510.31" y="1029.6" width="18.39" height="19.75" fill="#ff8000"/>
<rect x="381.6" y="1049.35" width="18.39" height="19.75" fill="#ff8000"/>
<rect x="399.99" y="1049.35" width="18.39" height="19.75" fill="#ff8000"/>
<rect x="418.38" y="1049.35" width="18.39" height="19.75" fill="#f8a13a"/>
<rect x="436.76" y="1049.35" width="18.39" height="19.75" fill="#f7a846"/>
<rect x="455.15" y="1049.35" width="18.39" height="19.75" fill="#fc9222"/>
<rect x="473.54" y="1049.35" width="18.39" height="19.75" fill="#ff8000"/>
<rect x="491.93" y="1049.35" width="18.39" height="19.75" fill="#ff8000"/>
<rect x="510.31" y="1049.35" width="18.39" height="19.75" fill="#ff8000"/>
<rect x="381.6" y="1069.1" width="18.39" height="19.75" fill="#f8f6b0"/>
<rect x="399.99" y="1069.1" width="18.39" height="19.75" fill="#bfdf9a"/>
<rect x="418.38" y="1069.1" width="18.39" height="19.75" fill="#7dc87d"/>
<rect x="436.76" y="1069.1" width="18.39" height="19.75" fill="#7dc87d"/>
<rect x="455.15" y="1069.1" width="18.39" height="19.75" fill="#ff8000"/>
<rect x="473.54" y="1069.1" width="18.39" height="19.75" fill="#ff8000"/>
<rect x="491.93" y="1069.1" width="18.39" height="19.75" fill="#ff8000"/>
<rect x="510.31" y="1069.1" width="18.39" height="19.75" fill="#f9f0a6"/>
<rect x="381.6" y="1088.85" width="18.39" height="19.75" fill="#fe870c"/>
<rect x="399.99" y="1088.85" width="18.39" height="19.75" fill="#ff8000"/>
<rect x="418.38" y="1088.85" width="18.39" height="19.75" fill="#f8a13a"/>
<rect x="436.76" y="1088.85" width="18.39" height="19.75" fill="#fbc462"/>
<rect x="455.15" y="1088.85" width="18.39" height="19.75" fill="#d3eaa2"/>
<rect x="473.54" y="1088.85" width="18.39" height="19.75" fill="#fcdf8e"/>
<rect x="491.93" y="1088.85" width="18.39" height="19.75" fill="#f8f2ac"/>
<rect x="510.31" y="1088.85" width="18.39" height="19.75" fill="#f5f8b0"/>
<line x1="399.99" y1="1029.6" x2="399.99" y2="1108.6" stroke="#1a1a1a" stroke-width="1.3" stroke-linecap="butt"/>
<line x1="418.38" y1="1029.6" x2="418.38" y2="1108.6" stroke="#1a1a1a" stroke-width="1.3" stroke-linecap="butt"/>
<line x1="436.76" y1="1029.6" x2="436.76" y2="1108.6" stroke="#1a1a1a" stroke-width="1.3" stroke-linecap="butt"/>
<line x1="455.15" y1="1029.6" x2="455.15" y2="1108.6" stroke="#1a1a1a" stroke-width="1.3" stroke-linecap="butt"/>
<line x1="473.54" y1="1029.6" x2="473.54" y2="1108.6" stroke="#1a1a1a" stroke-width="1.3" stroke-linecap="butt"/>
<line x1="491.93" y1="1029.6" x2="491.93" y2="1108.6" stroke="#1a1a1a" stroke-width="1.3" stroke-linecap="butt"/>
<line x1="510.31" y1="1029.6" x2="510.31" y2="1108.6" stroke="#1a1a1a" stroke-width="1.3" stroke-linecap="butt"/>
<line x1="381.6" y1="1049.35" x2="528.7" y2="1049.35" stroke="#1a1a1a" stroke-width="1.3" stroke-linecap="butt"/>
<line x1="381.6" y1="1069.1" x2="528.7" y2="1069.1" stroke="#1a1a1a" stroke-width="1.3" stroke-linecap="butt"/>
<line x1="381.6" y1="1088.85" x2="528.7" y2="1088.85" stroke="#1a1a1a" stroke-width="1.3" stroke-linecap="butt"/>
<rect x="382.25" y="1030.25" width="145.8" height="77.7" fill="none" stroke="#1a1a1a" stroke-width="1.3"/>
<text x="24.08" y="878.9" font-size="29" stroke="#000">Log</text>
<text x="74.3" y="885.4" font-size="18" stroke="#000">2</text>
<text x="92.5" y="878.9" font-size="28.3" stroke="#000">(fc)</text>
<rect x="28.25" y="919.05" width="19.5" height="165.5" fill="url(#cbB)" stroke="#222" stroke-width="1.3"/>
<line x1="48" y1="918.6" x2="52.5" y2="918.6" stroke="#333" stroke-width="1.3" stroke-linecap="butt"/>
<text x="54.29" y="926.1" font-size="22.2" stroke="#000">2.00</text>
<line x1="48" y1="939.4" x2="52.5" y2="939.4" stroke="#333" stroke-width="1.3" stroke-linecap="butt"/>
<text x="53.73" y="946.9" font-size="22.2" stroke="#000">1.50</text>
<line x1="48" y1="960.2" x2="52.5" y2="960.2" stroke="#333" stroke-width="1.3" stroke-linecap="butt"/>
<text x="53.73" y="967.7" font-size="22.2" stroke="#000">1.00</text>
<line x1="48" y1="981" x2="52.5" y2="981" stroke="#333" stroke-width="1.3" stroke-linecap="butt"/>
<text x="54.51" y="988.5" font-size="22.2" stroke="#000">0.50</text>
<line x1="48" y1="1001.8" x2="52.5" y2="1001.8" stroke="#333" stroke-width="1.3" stroke-linecap="butt"/>
<text x="54.51" y="1009.3" font-size="22.2" stroke="#000">0.00</text>
<line x1="48" y1="1022.6" x2="52.5" y2="1022.6" stroke="#333" stroke-width="1.3" stroke-linecap="butt"/>
<text x="54.4" y="1030.1" font-size="22.2" stroke="#000">-0.50</text>
<line x1="48" y1="1043.4" x2="52.5" y2="1043.4" stroke="#333" stroke-width="1.3" stroke-linecap="butt"/>
<text x="54.4" y="1050.9" font-size="22.2" stroke="#000">-1.00</text>
<line x1="48" y1="1064.2" x2="52.5" y2="1064.2" stroke="#333" stroke-width="1.3" stroke-linecap="butt"/>
<text x="54.4" y="1071.7" font-size="22.2" stroke="#000">-1.50</text>
<line x1="48" y1="1085" x2="52.5" y2="1085" stroke="#333" stroke-width="1.3" stroke-linecap="butt"/>
<text x="54.4" y="1092.5" font-size="22.2" stroke="#000">-2.00</text>
<line x1="1278.2" y1="102" x2="1278.2" y2="503.6" stroke="#000" stroke-width="3" stroke-linecap="butt"/>
<line x1="1269.2" y1="502.1" x2="1278.2" y2="502.1" stroke="#000" stroke-width="3" stroke-linecap="butt"/>
<text x="1251.34" y="512.7" font-size="32.5" text-anchor="end" stroke="#000">0</text>
<line x1="1269.2" y1="457.81" x2="1278.2" y2="457.81" stroke="#000" stroke-width="3" stroke-linecap="butt"/>
<text x="1251.34" y="468.41" font-size="32.5" text-anchor="end" stroke="#000">5</text>
<line x1="1269.2" y1="413.52" x2="1278.2" y2="413.52" stroke="#000" stroke-width="3" stroke-linecap="butt"/>
<text x="1251.38" y="424.12" font-size="32.5" text-anchor="end" stroke="#000">10</text>
<line x1="1269.2" y1="369.23" x2="1278.2" y2="369.23" stroke="#000" stroke-width="3" stroke-linecap="butt"/>
<text x="1251.38" y="379.83" font-size="32.5" text-anchor="end" stroke="#000">15</text>
<line x1="1269.2" y1="324.94" x2="1278.2" y2="324.94" stroke="#000" stroke-width="3" stroke-linecap="butt"/>
<text x="1251.38" y="335.54" font-size="32.5" text-anchor="end" stroke="#000">20</text>
<line x1="1269.2" y1="280.66" x2="1278.2" y2="280.66" stroke="#000" stroke-width="3" stroke-linecap="butt"/>
<text x="1251.38" y="291.26" font-size="32.5" text-anchor="end" stroke="#000">25</text>
<line x1="1269.2" y1="236.37" x2="1278.2" y2="236.37" stroke="#000" stroke-width="3" stroke-linecap="butt"/>
<text x="1251.38" y="246.97" font-size="32.5" text-anchor="end" stroke="#000">30</text>
<line x1="1269.2" y1="192.08" x2="1278.2" y2="192.08" stroke="#000" stroke-width="3" stroke-linecap="butt"/>
<text x="1251.38" y="202.68" font-size="32.5" text-anchor="end" stroke="#000">35</text>
<line x1="1269.2" y1="147.79" x2="1278.2" y2="147.79" stroke="#000" stroke-width="3" stroke-linecap="butt"/>
<text x="1251.38" y="158.39" font-size="32.5" text-anchor="end" stroke="#000">40</text>
<line x1="1269.2" y1="103.5" x2="1278.2" y2="103.5" stroke="#000" stroke-width="3" stroke-linecap="butt"/>
<text x="1251.38" y="114.1" font-size="32.5" text-anchor="end" stroke="#000">45</text>
<rect x="1291.1" y="353.5" width="50.1" height="148.4" fill="#4fd34f" stroke="#000" stroke-width="2.4"/>
<rect x="1346.3" y="204.5" width="50.4" height="297.4" fill="#fcaa30" stroke="#000" stroke-width="2.4"/>
<line x1="1316.15" y1="338" x2="1316.15" y2="370.2" stroke="#000" stroke-width="3.6" stroke-linecap="butt"/>
<line x1="1311.85" y1="339.7" x2="1320.45" y2="339.7" stroke="#000" stroke-width="3.4" stroke-linecap="butt"/>
<line x1="1311.85" y1="368.5" x2="1320.45" y2="368.5" stroke="#000" stroke-width="3.4" stroke-linecap="butt"/>
<line x1="1371.5" y1="143.3" x2="1371.5" y2="266" stroke="#000" stroke-width="3.6" stroke-linecap="butt"/>
<line x1="1367.2" y1="145" x2="1375.8" y2="145" stroke="#000" stroke-width="3.4" stroke-linecap="butt"/>
<line x1="1367.2" y1="264.3" x2="1375.8" y2="264.3" stroke="#000" stroke-width="3.4" stroke-linecap="butt"/>
<rect x="1422.4" y="313.3" width="50.1" height="188.6" fill="#4fd34f" stroke="#000" stroke-width="2.4"/>
<rect x="1477.6" y="187.9" width="50.4" height="314" fill="#fcaa30" stroke="#000" stroke-width="2.4"/>
<line x1="1447.45" y1="276.3" x2="1447.45" y2="349.7" stroke="#000" stroke-width="3.6" stroke-linecap="butt"/>
<line x1="1443.15" y1="278" x2="1451.75" y2="278" stroke="#000" stroke-width="3.4" stroke-linecap="butt"/>
<line x1="1443.15" y1="348" x2="1451.75" y2="348" stroke="#000" stroke-width="3.4" stroke-linecap="butt"/>
<line x1="1502.8" y1="165.8" x2="1502.8" y2="209.2" stroke="#000" stroke-width="3.6" stroke-linecap="butt"/>
<line x1="1498.5" y1="167.5" x2="1507.1" y2="167.5" stroke="#000" stroke-width="3.4" stroke-linecap="butt"/>
<line x1="1498.5" y1="207.5" x2="1507.1" y2="207.5" stroke="#000" stroke-width="3.4" stroke-linecap="butt"/>
<rect x="1553.7" y="334.8" width="50.1" height="167.1" fill="#4fd34f" stroke="#000" stroke-width="2.4"/>
<rect x="1608.9" y="177.4" width="50.4" height="324.5" fill="#fcaa30" stroke="#000" stroke-width="2.4"/>
<line x1="1578.75" y1="321.3" x2="1578.75" y2="348.6" stroke="#000" stroke-width="3.6" stroke-linecap="butt"/>
<line x1="1574.45" y1="323" x2="1583.05" y2="323" stroke="#000" stroke-width="3.4" stroke-linecap="butt"/>
<line x1="1574.45" y1="346.9" x2="1583.05" y2="346.9" stroke="#000" stroke-width="3.4" stroke-linecap="butt"/>
<line x1="1634.1" y1="146.8" x2="1634.1" y2="207.6" stroke="#000" stroke-width="3.6" stroke-linecap="butt"/>
<line x1="1629.8" y1="148.5" x2="1638.4" y2="148.5" stroke="#000" stroke-width="3.4" stroke-linecap="butt"/>
<line x1="1629.8" y1="205.9" x2="1638.4" y2="205.9" stroke="#000" stroke-width="3.4" stroke-linecap="butt"/>
<rect x="1685" y="401" width="50.1" height="100.9" fill="#4fd34f" stroke="#000" stroke-width="2.4"/>
<rect x="1740.2" y="209.2" width="50.4" height="292.7" fill="#fcaa30" stroke="#000" stroke-width="2.4"/>
<line x1="1710.05" y1="381.9" x2="1710.05" y2="421.4" stroke="#000" stroke-width="3.6" stroke-linecap="butt"/>
<line x1="1705.75" y1="383.6" x2="1714.35" y2="383.6" stroke="#000" stroke-width="3.4" stroke-linecap="butt"/>
<line x1="1705.75" y1="419.7" x2="1714.35" y2="419.7" stroke="#000" stroke-width="3.4" stroke-linecap="butt"/>
<line x1="1765.4" y1="203.5" x2="1765.4" y2="215.1" stroke="#000" stroke-width="3.6" stroke-linecap="butt"/>
<line x1="1761.1" y1="205.2" x2="1769.7" y2="205.2" stroke="#000" stroke-width="3.4" stroke-linecap="butt"/>
<line x1="1761.1" y1="213.4" x2="1769.7" y2="213.4" stroke="#000" stroke-width="3.4" stroke-linecap="butt"/>
<rect x="1816.3" y="424" width="50.1" height="77.9" fill="#4fd34f" stroke="#000" stroke-width="2.4"/>
<rect x="1871.5" y="255" width="50.4" height="246.9" fill="#fcaa30" stroke="#000" stroke-width="2.4"/>
<line x1="1841.35" y1="408.1" x2="1841.35" y2="440" stroke="#000" stroke-width="3.6" stroke-linecap="butt"/>
<line x1="1837.05" y1="409.8" x2="1845.65" y2="409.8" stroke="#000" stroke-width="3.4" stroke-linecap="butt"/>
<line x1="1837.05" y1="438.3" x2="1845.65" y2="438.3" stroke="#000" stroke-width="3.4" stroke-linecap="butt"/>
<line x1="1896.7" y1="209.1" x2="1896.7" y2="300.1" stroke="#000" stroke-width="3.6" stroke-linecap="butt"/>
<line x1="1892.4" y1="210.8" x2="1901" y2="210.8" stroke="#000" stroke-width="3.4" stroke-linecap="butt"/>
<line x1="1892.4" y1="298.4" x2="1901" y2="298.4" stroke="#000" stroke-width="3.4" stroke-linecap="butt"/>
<line x1="1269.2" y1="502.1" x2="1936.6" y2="502.1" stroke="#000" stroke-width="3" stroke-linecap="butt"/>
<line x1="1344" y1="502.1" x2="1344" y2="509.6" stroke="#000" stroke-width="3.2" stroke-linecap="butt"/>
<line x1="1475.3" y1="502.1" x2="1475.3" y2="509.6" stroke="#000" stroke-width="3.2" stroke-linecap="butt"/>
<line x1="1606.6" y1="502.1" x2="1606.6" y2="509.6" stroke="#000" stroke-width="3.2" stroke-linecap="butt"/>
<line x1="1737.9" y1="502.1" x2="1737.9" y2="509.6" stroke="#000" stroke-width="3.2" stroke-linecap="butt"/>
<line x1="1869.2" y1="502.1" x2="1869.2" y2="509.6" stroke="#000" stroke-width="3.2" stroke-linecap="butt"/>
<line x1="1935.1" y1="502.1" x2="1935.1" y2="509.6" stroke="#000" stroke-width="3.2" stroke-linecap="butt"/>
<text x="1341.02" y="539.5" font-size="29.2" text-anchor="middle" stroke="#000">0</text>
<text x="1469.5" y="539.5" font-size="29.2" text-anchor="middle" stroke="#000">0.5</text>
<text x="1603.65" y="539.5" font-size="29.2" text-anchor="middle" stroke="#000">1</text>
<text x="1734.52" y="539.5" font-size="29.2" text-anchor="middle" stroke="#000">2</text>
<text x="1865.09" y="539.5" font-size="29.2" text-anchor="middle" stroke="#000">4</text>
<polyline points="1316.8,316.8 1316.8,108 1373.8,108 1373.8,136.3" fill="none" stroke="#000" stroke-width="2.4"/>
<text x="1336.1" y="115.04" font-size="47" font-weight="bold" letter-spacing="2.7" stroke="#000">*</text>
<polyline points="1447.2,266.6 1447.2,128.9 1504,128.9 1504,155" fill="none" stroke="#000" stroke-width="2.4"/>
<text x="1456.8" y="132.44" font-size="47" font-weight="bold" letter-spacing="2.7" stroke="#000">**</text>
<polyline points="1578.2,313 1578.2,112.4 1634.6,112.4 1634.6,138.7" fill="none" stroke="#000" stroke-width="2.4"/>
<text x="1576.1" y="113.84" font-size="47" font-weight="bold" letter-spacing="2.7" stroke="#000">***</text>
<polyline points="1710.5,365 1710.5,171.5 1766.9,171.5 1766.9,197" fill="none" stroke="#000" stroke-width="2.4"/>
<text x="1709.6" y="172.74" font-size="47" font-weight="bold" letter-spacing="2.7" stroke="#000">***</text>
<polyline points="1841.6,387.9 1841.6,174.8 1898,174.8 1898,201" fill="none" stroke="#000" stroke-width="2.4"/>
<text x="1850.6" y="177.34" font-size="47" font-weight="bold" letter-spacing="2.7" stroke="#000">**</text>
<rect x="1299.2" y="35.5" width="27.4" height="27.2" fill="#4fd34f" stroke="#000" stroke-width="3"/>
<text x="1336.32" y="61.8" font-size="31" stroke="#000">HM</text>
<rect x="1393.4" y="36.5" width="27.3" height="27.2" fill="#fcaa30" stroke="#000" stroke-width="3"/>
<text x="1437.02" y="62" font-size="31" stroke="#000">DX</text>
<text x="1463.06" y="586" font-size="29.2" stroke="#000">Days after treatment</text>
<text font-size="29.2" text-anchor="middle" transform="translate(1155.4,277) rotate(-90)" stroke="#000">Lignin content</text>
<text font-size="29.2" text-anchor="middle" transform="translate(1189.5,278.6) rotate(-90)" stroke="#000">(mg g<tspan font-size="17" dy="-11">−1</tspan><tspan dy="11">) (dw)</tspan></text>
<line x1="1278.4" y1="652.2" x2="1278.4" y2="1055.9" stroke="#000" stroke-width="3" stroke-linecap="butt"/>
<line x1="1269.4" y1="1054.4" x2="1278.4" y2="1054.4" stroke="#000" stroke-width="3" stroke-linecap="butt"/>
<text x="1251.34" y="1065" font-size="32.5" text-anchor="end" stroke="#000">0</text>
<line x1="1269.4" y1="987.62" x2="1278.4" y2="987.62" stroke="#000" stroke-width="3" stroke-linecap="butt"/>
<text x="1251.38" y="998.22" font-size="32.5" text-anchor="end" stroke="#000">10</text>
<line x1="1269.4" y1="920.83" x2="1278.4" y2="920.83" stroke="#000" stroke-width="3" stroke-linecap="butt"/>
<text x="1251.38" y="931.43" font-size="32.5" text-anchor="end" stroke="#000">20</text>
<line x1="1269.4" y1="854.05" x2="1278.4" y2="854.05" stroke="#000" stroke-width="3" stroke-linecap="butt"/>
<text x="1251.38" y="864.65" font-size="32.5" text-anchor="end" stroke="#000">30</text>
<line x1="1269.4" y1="787.27" x2="1278.4" y2="787.27" stroke="#000" stroke-width="3" stroke-linecap="butt"/>
<text x="1251.38" y="797.87" font-size="32.5" text-anchor="end" stroke="#000">40</text>
<line x1="1269.4" y1="720.48" x2="1278.4" y2="720.48" stroke="#000" stroke-width="3" stroke-linecap="butt"/>
<text x="1251.38" y="731.08" font-size="32.5" text-anchor="end" stroke="#000">50</text>
<line x1="1269.4" y1="653.7" x2="1278.4" y2="653.7" stroke="#000" stroke-width="3" stroke-linecap="butt"/>
<text x="1251.38" y="664.3" font-size="32.5" text-anchor="end" stroke="#000">60</text>
<rect x="1290.5" y="836.3" width="51.1" height="217.9" fill="#4fd34f" stroke="#000" stroke-width="2.4"/>
<rect x="1346.4" y="828" width="51" height="226.2" fill="#fcaa30" stroke="#000" stroke-width="2.4"/>
<line x1="1316.05" y1="830.8" x2="1316.05" y2="841.7" stroke="#000" stroke-width="3.6" stroke-linecap="butt"/>
<line x1="1311.75" y1="832.5" x2="1320.35" y2="832.5" stroke="#000" stroke-width="3.4" stroke-linecap="butt"/>
<line x1="1311.75" y1="840" x2="1320.35" y2="840" stroke="#000" stroke-width="3.4" stroke-linecap="butt"/>
<line x1="1371.9" y1="806.6" x2="1371.9" y2="849.2" stroke="#000" stroke-width="3.6" stroke-linecap="butt"/>
<line x1="1367.6" y1="808.3" x2="1376.2" y2="808.3" stroke="#000" stroke-width="3.4" stroke-linecap="butt"/>
<line x1="1367.6" y1="847.5" x2="1376.2" y2="847.5" stroke="#000" stroke-width="3.4" stroke-linecap="butt"/>
<rect x="1423.18" y="816.8" width="51.1" height="237.4" fill="#4fd34f" stroke="#000" stroke-width="2.4"/>
<rect x="1479.08" y="822.3" width="51" height="231.9" fill="#fcaa30" stroke="#000" stroke-width="2.4"/>
<line x1="1448.73" y1="809.9" x2="1448.73" y2="823.2" stroke="#000" stroke-width="3.6" stroke-linecap="butt"/>
<line x1="1444.43" y1="811.6" x2="1453.03" y2="811.6" stroke="#000" stroke-width="3.4" stroke-linecap="butt"/>
<line x1="1444.43" y1="821.5" x2="1453.03" y2="821.5" stroke="#000" stroke-width="3.4" stroke-linecap="butt"/>
<line x1="1504.58" y1="815.9" x2="1504.58" y2="828.9" stroke="#000" stroke-width="3.6" stroke-linecap="butt"/>
<line x1="1500.28" y1="817.6" x2="1508.88" y2="817.6" stroke="#000" stroke-width="3.4" stroke-linecap="butt"/>
<line x1="1500.28" y1="827.2" x2="1508.88" y2="827.2" stroke="#000" stroke-width="3.4" stroke-linecap="butt"/>
<rect x="1555.86" y="848" width="51.1" height="206.2" fill="#4fd34f" stroke="#000" stroke-width="2.4"/>
<rect x="1611.76" y="778.7" width="51" height="275.5" fill="#fcaa30" stroke="#000" stroke-width="2.4"/>
<line x1="1581.41" y1="843.8" x2="1581.41" y2="853.2" stroke="#000" stroke-width="3.6" stroke-linecap="butt"/>
<line x1="1577.11" y1="845.5" x2="1585.71" y2="845.5" stroke="#000" stroke-width="3.4" stroke-linecap="butt"/>
<line x1="1577.11" y1="851.5" x2="1585.71" y2="851.5" stroke="#000" stroke-width="3.4" stroke-linecap="butt"/>
<line x1="1637.26" y1="774.3" x2="1637.26" y2="783.2" stroke="#000" stroke-width="3.6" stroke-linecap="butt"/>
<line x1="1632.96" y1="776" x2="1641.56" y2="776" stroke="#000" stroke-width="3.4" stroke-linecap="butt"/>
<line x1="1632.96" y1="781.5" x2="1641.56" y2="781.5" stroke="#000" stroke-width="3.4" stroke-linecap="butt"/>
<rect x="1688.54" y="864.5" width="51.1" height="189.7" fill="#4fd34f" stroke="#000" stroke-width="2.4"/>
<rect x="1744.44" y="778.7" width="51" height="275.5" fill="#fcaa30" stroke="#000" stroke-width="2.4"/>
<line x1="1714.09" y1="855.6" x2="1714.09" y2="873.2" stroke="#000" stroke-width="3.6" stroke-linecap="butt"/>
<line x1="1709.79" y1="857.3" x2="1718.39" y2="857.3" stroke="#000" stroke-width="3.4" stroke-linecap="butt"/>
<line x1="1709.79" y1="871.5" x2="1718.39" y2="871.5" stroke="#000" stroke-width="3.4" stroke-linecap="butt"/>
<line x1="1769.94" y1="754.5" x2="1769.94" y2="802.4" stroke="#000" stroke-width="3.6" stroke-linecap="butt"/>
<line x1="1765.64" y1="756.2" x2="1774.24" y2="756.2" stroke="#000" stroke-width="3.4" stroke-linecap="butt"/>
<line x1="1765.64" y1="800.7" x2="1774.24" y2="800.7" stroke="#000" stroke-width="3.4" stroke-linecap="butt"/>
<rect x="1821.22" y="824.6" width="51.1" height="229.6" fill="#4fd34f" stroke="#000" stroke-width="2.4"/>
<rect x="1877.12" y="728.9" width="51" height="325.3" fill="#fcaa30" stroke="#000" stroke-width="2.4"/>
<line x1="1846.77" y1="809.4" x2="1846.77" y2="840.8" stroke="#000" stroke-width="3.6" stroke-linecap="butt"/>
<line x1="1842.47" y1="811.1" x2="1851.07" y2="811.1" stroke="#000" stroke-width="3.4" stroke-linecap="butt"/>
<line x1="1842.47" y1="839.1" x2="1851.07" y2="839.1" stroke="#000" stroke-width="3.4" stroke-linecap="butt"/>
<line x1="1902.62" y1="709.6" x2="1902.62" y2="749.3" stroke="#000" stroke-width="3.6" stroke-linecap="butt"/>
<line x1="1898.32" y1="711.3" x2="1906.92" y2="711.3" stroke="#000" stroke-width="3.4" stroke-linecap="butt"/>
<line x1="1898.32" y1="747.6" x2="1906.92" y2="747.6" stroke="#000" stroke-width="3.4" stroke-linecap="butt"/>
<line x1="1269.4" y1="1054.4" x2="1942" y2="1054.4" stroke="#000" stroke-width="3" stroke-linecap="butt"/>
<line x1="1344" y1="1054.4" x2="1344" y2="1061.9" stroke="#000" stroke-width="3.2" stroke-linecap="butt"/>
<line x1="1476.68" y1="1054.4" x2="1476.68" y2="1061.9" stroke="#000" stroke-width="3.2" stroke-linecap="butt"/>
<line x1="1609.36" y1="1054.4" x2="1609.36" y2="1061.9" stroke="#000" stroke-width="3.2" stroke-linecap="butt"/>
<line x1="1742.04" y1="1054.4" x2="1742.04" y2="1061.9" stroke="#000" stroke-width="3.2" stroke-linecap="butt"/>
<line x1="1874.72" y1="1054.4" x2="1874.72" y2="1061.9" stroke="#000" stroke-width="3.2" stroke-linecap="butt"/>
<line x1="1940.5" y1="1054.4" x2="1940.5" y2="1061.9" stroke="#000" stroke-width="3.2" stroke-linecap="butt"/>
<text x="1342.02" y="1090" font-size="29.2" text-anchor="middle" stroke="#000">0</text>
<text x="1469.88" y="1090" font-size="29.2" text-anchor="middle" stroke="#000">0.5</text>
<text x="1606.51" y="1090" font-size="29.2" text-anchor="middle" stroke="#000">1</text>
<text x="1740.86" y="1090" font-size="29.2" text-anchor="middle" stroke="#000">2</text>
<text x="1871.11" y="1090" font-size="29.2" text-anchor="middle" stroke="#000">4</text>
<polyline points="1581.3,835.7 1581.3,739 1638.3,739 1638.3,766.5" fill="none" stroke="#000" stroke-width="2.4"/>
<text x="1600.5" y="743.24" font-size="47" font-weight="bold" letter-spacing="2.7" stroke="#000">*</text>
<polyline points="1712.7,849.5 1712.7,717.3 1770,717.3 1770,745" fill="none" stroke="#000" stroke-width="2.4"/>
<text x="1721.8" y="719.84" font-size="47" font-weight="bold" letter-spacing="2.7" stroke="#000">**</text>
<polyline points="1846.3,803.9 1846.3,672.9 1903.3,672.9 1903.3,700.2" fill="none" stroke="#000" stroke-width="2.4"/>
<text x="1854.1" y="675.74" font-size="47" font-weight="bold" letter-spacing="2.7" stroke="#000">**</text>
<line x1="1306.3" y1="797.5" x2="1390" y2="797.5" stroke="#111" stroke-width="2.6" stroke-linecap="butt"/>
<text x="1349.6" y="780.5" font-size="27.5" text-anchor="middle" stroke="#000">ns</text>
<line x1="1437" y1="796.9" x2="1520.4" y2="796.9" stroke="#111" stroke-width="2.6" stroke-linecap="butt"/>
<text x="1478.1" y="780.5" font-size="27.5" text-anchor="middle" stroke="#000">ns</text>
<text x="1467.46" y="1137" font-size="29.2" stroke="#000">Days after treatment</text>
<text font-size="29.2" text-anchor="middle" transform="translate(1156,830.8) rotate(-90)" stroke="#000">Pectin content</text>
<text font-size="29.2" text-anchor="middle" transform="translate(1189.8,832.4) rotate(-90)" stroke="#000">(mg g<tspan font-size="17" dy="-11">−1</tspan><tspan dy="11">) (dw)</tspan></text>
</svg></body></html>
